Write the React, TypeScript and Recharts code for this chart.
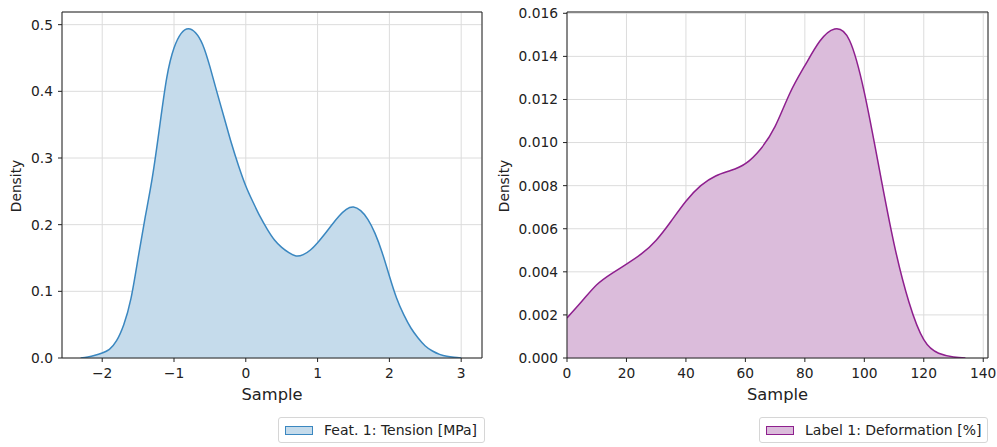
import React from "react";
import {
  ComposedChart,
  Area,
  XAxis,
  YAxis,
  CartesianGrid,
  ReferenceArea,
} from "recharts";

// KDE of the feature (Tension)
const tensionX = [
  -2.3, -2.2, -2.1, -2.0, -1.9, -1.8, -1.7, -1.6, -1.5, -1.4, -1.3, -1.2, -1.1,
  -1.0, -0.9, -0.8, -0.7, -0.6, -0.5, -0.4, -0.3, -0.2, -0.1, 0.0, 0.1, 0.2, 0.3,
  0.4, 0.5, 0.6, 0.7, 0.8, 0.9, 1.0, 1.1, 1.2, 1.3, 1.4, 1.5, 1.6, 1.7, 1.8, 1.9,
  2.0, 2.1, 2.2, 2.3, 2.4, 2.5, 2.6, 2.7, 2.8, 2.9, 3.0,
];
const tensionDensity = [
  0.0, 0.0015, 0.004, 0.0075, 0.013, 0.026, 0.05, 0.089, 0.15, 0.212, 0.272,
  0.347, 0.421, 0.465, 0.487, 0.494, 0.488, 0.47, 0.437, 0.398, 0.36, 0.322,
  0.288, 0.258, 0.234, 0.212, 0.193, 0.177, 0.166, 0.158, 0.153, 0.155, 0.162,
  0.173, 0.186, 0.2, 0.213, 0.223, 0.2265, 0.221, 0.208, 0.187, 0.158, 0.123,
  0.09, 0.065, 0.045, 0.03, 0.018, 0.0105, 0.0055, 0.0025, 0.001, 0.0,
];

// KDE of the label (Deformation)
const deformationX = [
  0, 5, 10, 15, 20, 25, 30, 35, 40, 45, 50, 55, 60, 65, 70, 75, 80, 85, 90, 95,
  100, 105, 110, 115, 120, 125, 130, 134,
];
const deformationDensity = [
  0.00186, 0.00263, 0.0034, 0.00392, 0.00436, 0.00483, 0.00547, 0.00635,
  0.00728, 0.008, 0.00845, 0.0087, 0.00902, 0.00968, 0.01075, 0.0123, 0.01357,
  0.0147, 0.01527, 0.01475, 0.01233, 0.0088, 0.0053, 0.0026, 0.00085, 0.00022,
  0.00005, 0.0,
];

const tensionXTicks = [-2, -1, 0, 1, 2, 3];
const tensionYTicks = [0, 0.1, 0.2, 0.3, 0.4, 0.5];
const deformationXTicks = [0, 20, 40, 60, 80, 100, 120, 140];
const deformationYTicks = [0, 0.002, 0.004, 0.006, 0.008, 0.01, 0.012, 0.014, 0.016];

const FONT = "'DejaVu Sans', sans-serif";

const minus = (v: number) => (v < 0 ? "\u2212" + Math.abs(v) : String(v));

type PanelProps = {
  left: number;
  width: number;
  yAxisWidth: number;
  marginRight: number;
  data: { x: number; density: number }[];
  xDomain: [number, number];
  yDomain: [number, number];
  xTicks: number[];
  yTicks: number[];
  xFmt: (v: number) => string;
  yFmt: (v: number) => string;
  stroke: string;
  fill: string;
  legend: string;
  legendLeft: number;
  legendWidth: number;
  densityX: number;
};

function KdePanel(p: PanelProps) {
  const plotLeft = 12 + p.yAxisWidth;
  const plotRight = p.width - p.marginRight;
  const center = (plotLeft + plotRight) / 2;
  return (
    <div style={{ position: "absolute", left: p.left, top: 0, width: p.width, height: 447 }}>
      <ComposedChart
        width={p.width}
        height={384}
        data={p.data}
        margin={{ top: 12, right: p.marginRight, left: 12, bottom: 0 }}
        style={{ fontFamily: FONT }}
      >
        <CartesianGrid stroke="#dcdcdc" strokeWidth={1} />
        <XAxis
          type="number"
          dataKey="x"
          domain={p.xDomain}
          allowDataOverflow
          ticks={p.xTicks}
          tickFormatter={p.xFmt}
          height={26}
          tickSize={4}
          tickMargin={6}
          axisLine={false}
          tickLine={{ stroke: "#222" }}
          tick={{ fill: "#222", fontSize: 13.8 }}
        />
        <YAxis
          type="number"
          domain={p.yDomain}
          allowDataOverflow
          ticks={p.yTicks}
          tickFormatter={p.yFmt}
          width={p.yAxisWidth}
          tickSize={4}
          tickMargin={5}
          axisLine={false}
          tickLine={{ stroke: "#222" }}
          tick={{ fill: "#222", fontSize: 13.8 }}
        />
        <Area
          type="natural"
          dataKey="density"
          stroke={p.stroke}
          strokeWidth={1.5}
          fill={p.fill}
          fillOpacity={1}
          isAnimationActive={false}
          dot={false}
          activeDot={false}
        />
        <ReferenceArea
          x1={p.xDomain[0]}
          x2={p.xDomain[1]}
          y1={p.yDomain[0]}
          y2={p.yDomain[1]}
          fill="none"
          stroke="#222"
          strokeWidth={1}
        />
      </ComposedChart>
      <div
        style={{
          position: "absolute",
          left: center - 50,
          width: 100,
          top: 385,
          textAlign: "center",
          fontSize: 16.3,
          color: "#222",
        }}
      >
        Sample
      </div>
      <div
        style={{
          position: "absolute",
          left: p.densityX - 40,
          top: 186 - 9,
          width: 80,
          height: 18,
          lineHeight: "18px",
          textAlign: "center",
          fontSize: 13.8,
          color: "#222",
          transform: "rotate(-90deg)",
        }}
      >
        Density
      </div>
      <div
        style={{
          position: "absolute",
          left: p.legendLeft,
          top: 417,
          width: p.legendWidth,
          height: 26,
          boxSizing: "border-box",
          border: "1px solid #d6d6d6",
          borderRadius: 3,
          background: "#fff",
          display: "flex",
          alignItems: "center",
          fontSize: 14,
          color: "#222",
          whiteSpace: "nowrap",
        }}
      >
        <div
          style={{
            marginLeft: 6,
            width: 28,
            height: 9,
            boxSizing: "border-box",
            background: p.fill,
            border: `1.5px solid ${p.stroke}`,
            marginRight: 11,
          }}
        />
        {p.legend}
      </div>
    </div>
  );
}

export default function App() {
  const tensionData = tensionX.map((x, i) => ({ x, density: tensionDensity[i] }));
  const deformationData = deformationX.map((x, i) => ({ x, density: deformationDensity[i] }));
  return (
    <div
      style={{
        position: "absolute",
        left: 0,
        top: 0,
        width: 997,
        height: 447,
        background: "#fff",
        fontFamily: FONT,
        overflow: "hidden",
      }}
    >
      <KdePanel
        left={0}
        width={497}
        yAxisWidth={50}
        marginRight={15}
        data={tensionData}
        xDomain={[-2.56, 3.29]}
        yDomain={[0, 0.519]}
        xTicks={tensionXTicks}
        yTicks={tensionYTicks}
        xFmt={minus}
        yFmt={(v) => v.toFixed(1)}
        stroke="#3a87c0"
        fill="#c5dbeb"
        legend="Feat. 1: Tension [MPa]"
        legendLeft={278}
        legendWidth={207}
        densityX={16}
      />
      <KdePanel
        left={497}
        width={500}
        yAxisWidth={58}
        marginRight={9}
        data={deformationData}
        xDomain={[0, 141.6]}
        yDomain={[0, 0.01606]}
        xTicks={deformationXTicks}
        yTicks={deformationYTicks}
        xFmt={(v) => String(v)}
        yFmt={(v) => v.toFixed(3)}
        stroke="#8e1f8e"
        fill="#dbbcdb"
        legend="Label 1: Deformation [%]"
        legendLeft={262}
        legendWidth={229}
        densityX={7}
      />
    </div>
  );
}
